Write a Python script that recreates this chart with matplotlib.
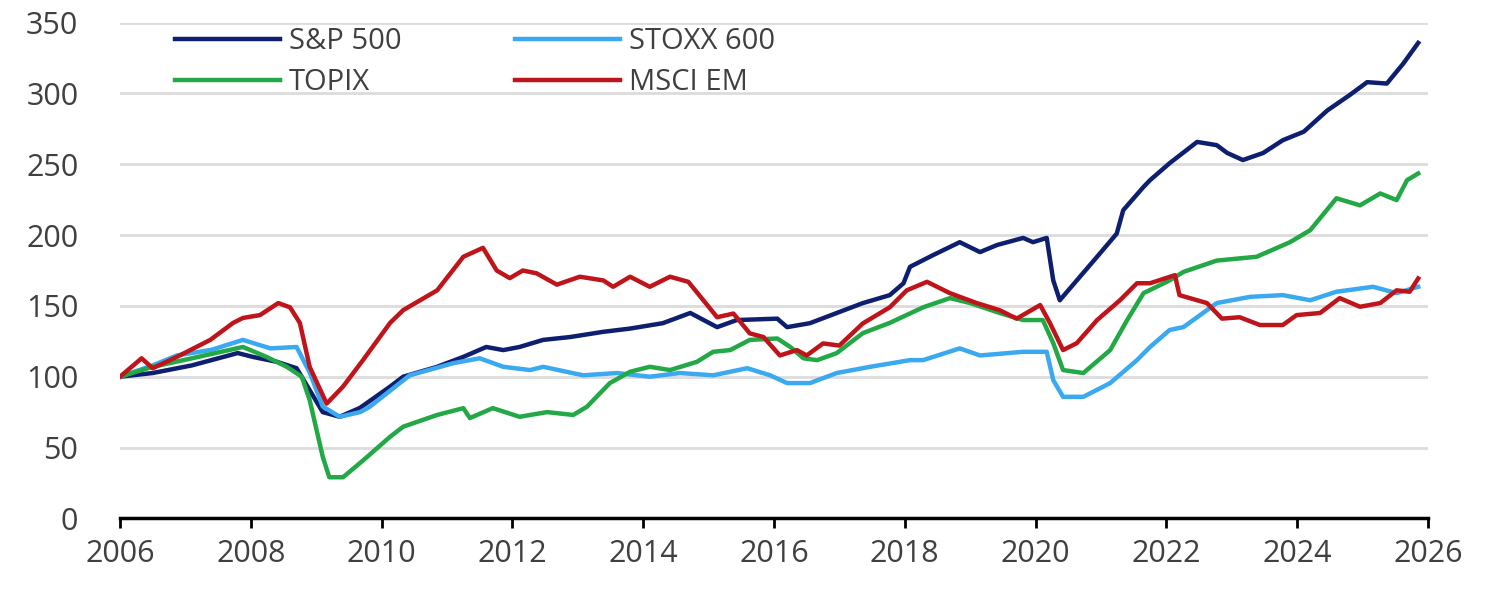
import matplotlib.pyplot as plt

# values (decimal years, index 2006 = 100)
sp_years = [2006.0, 2006.5, 2007.1, 2007.8, 2008.03, 2008.4, 2008.7, 2009.1, 2009.36, 2009.67,
            2010.13, 2010.33, 2010.85, 2011.25, 2011.6, 2011.86, 2012.11, 2012.47, 2012.88, 2013.39,
            2013.8, 2014.3, 2014.72, 2015.13, 2015.43, 2016.05, 2016.2, 2016.55, 2016.96, 2017.36,
            2017.77, 2017.98, 2018.08, 2018.43, 2018.84, 2019.15, 2019.41, 2019.81, 2019.96, 2020.17,
            2020.27, 2020.37, 2020.63, 2020.94, 2021.24, 2021.34, 2021.65, 2021.75, 2022.05, 2022.47,
            2022.77, 2022.93, 2023.17, 2023.48, 2023.78, 2024.1, 2024.46, 2024.8, 2025.07, 2025.37,
            2025.62, 2025.85]
sp_vals = [100, 102.6, 108, 116.7, 114, 110.5, 106, 75, 71.7, 78,
           93, 100, 107, 114, 121, 118.8, 121, 126, 128, 131.7,
           134, 137.8, 145, 135, 140, 141, 135, 137.8, 145, 152,
           157.6, 166, 177.6, 185.8, 195, 188, 193, 198, 195, 198,
           168, 154, 168, 184.7, 201, 217.6, 234, 238.8, 250.8, 265.8,
           263.5, 258, 253, 258, 267, 273, 288, 298.8, 308, 307,
           321, 335.7]

stoxx_years = [2006.0, 2006.5, 2006.87, 2007.4, 2007.88, 2008.3, 2008.7, 2008.9, 2009.1, 2009.36,
               2009.67, 2009.82, 2010.43, 2011.1, 2011.5, 2011.86, 2012.27, 2012.47, 2013.08, 2013.6,
               2014.1, 2014.56, 2015.07, 2015.59, 2015.94, 2016.2, 2016.55, 2016.96, 2017.47, 2018.08,
               2018.28, 2018.84, 2019.15, 2019.81, 2020.17, 2020.27, 2020.42, 2020.73, 2021.14, 2021.55,
               2021.75, 2022.05, 2022.26, 2022.77, 2023.28, 2023.78, 2024.2, 2024.6, 2025.16, 2025.52,
               2025.85]
stoxx_vals = [100, 108, 115, 119, 126, 120, 121, 103, 79, 71.7,
              75, 78.8, 101, 109.6, 113, 107, 104.7, 107, 101, 102.6,
              100, 102.6, 101, 106, 101, 95.5, 95.5, 102.6, 107, 111.7,
              111.7, 120, 115, 117.6, 117.6, 97.6, 85.8, 85.8, 95.5, 111.7,
              121, 133, 135, 152, 156.4, 157.6, 154, 160, 163.5, 159,
              163.5]

topix_years = [2006.0, 2006.5, 2007.1, 2007.88, 2008.24, 2008.55, 2008.78, 2008.9, 2009.1, 2009.2,
               2009.41, 2009.72, 2010.13, 2010.33, 2010.85, 2011.25, 2011.35, 2011.7, 2012.11, 2012.53,
               2012.93, 2013.14, 2013.49, 2013.8, 2014.1, 2014.41, 2014.82, 2015.07, 2015.33, 2015.63,
               2016.05, 2016.25, 2016.45, 2016.66, 2016.96, 2017.36, 2017.77, 2018.28, 2018.69, 2019.0,
               2019.45, 2019.81, 2020.11, 2020.27, 2020.42, 2020.73, 2021.14, 2021.4, 2021.65, 2022.05,
               2022.26, 2022.77, 2023.38, 2023.89, 2024.2, 2024.6, 2024.96, 2025.27, 2025.52, 2025.68,
               2025.85]
topix_vals = [100, 107, 113, 121, 114, 107, 100, 83.5, 43.5, 29,
              29, 41, 57.6, 64.7, 73, 77.8, 70.8, 77.8, 71.7, 75,
              73, 78.8, 95.5, 103.5, 107, 104.7, 110.5, 117.6, 118.8, 126,
              127, 121, 113, 111.7, 116.7, 130.8, 138, 149, 155.5, 152,
              145, 140, 140, 123.7, 104.7, 102.6, 118.8, 140, 159, 168,
              174, 182, 184.7, 195, 203.5, 226, 221, 229.4, 224.7, 238.8,
              243.5]

em_years = [2006.0, 2006.33, 2006.5, 2006.87, 2007.38, 2007.73, 2007.88, 2008.14, 2008.42, 2008.6,
            2008.75, 2008.9, 2009.16, 2009.41, 2009.72, 2010.13, 2010.33, 2010.85, 2011.25, 2011.55,
            2011.76, 2011.96, 2012.16, 2012.37, 2012.68, 2013.03, 2013.39, 2013.54, 2013.8, 2014.1,
            2014.41, 2014.69, 2014.92, 2015.13, 2015.38, 2015.63, 2015.84, 2016.09, 2016.35, 2016.5,
            2016.75, 2017.0, 2017.36, 2017.77, 2018.03, 2018.34, 2018.69, 2019.1, 2019.45, 2019.71,
            2020.07, 2020.22, 2020.42, 2020.63, 2020.94, 2021.29, 2021.55, 2021.75, 2022.13, 2022.2,
            2022.62, 2022.85, 2023.12, 2023.43, 2023.78, 2023.99, 2024.35, 2024.65, 2024.96, 2025.27,
            2025.52, 2025.72, 2025.85]
em_vals = [100, 113, 106, 114, 126, 138, 141.5, 143.5, 152, 149,
           138, 107, 81, 93, 112, 138, 147, 161, 184.7, 191,
           175, 169.6, 175, 173, 165, 170.6, 168, 163.5, 170.6, 163.5,
           170.6, 167, 154, 142, 144.6, 130.6, 128, 115, 118.8, 115,
           123.5, 122, 137.7, 149, 161, 167, 159, 152, 147, 141,
           150.6, 137.8, 118.8, 123.7, 140, 154, 166, 166, 171.7, 157.6,
           152, 141, 142, 136.5, 136.5, 143.5, 145, 155.5, 149.4, 152,
           161, 160, 169.4]

year_ticks = list(range(2006, 2027, 2))
value_ticks = list(range(0, 351, 50))

plt.rcParams["font.family"] = ["Open Sans", "DejaVu Sans"]
text_color = "#404040"

fig = plt.figure(figsize=(15, 5.89), dpi=100)
ax = fig.add_axes([0.08, 0.12, 0.872, 0.8415])

ax.plot(sp_years, sp_vals, color="#0d1f6e", lw=3.2, label="S&P 500")
ax.plot(stoxx_years, stoxx_vals, color="#3aa9f0", lw=3.2, label="STOXX 600")
ax.plot(topix_years, topix_vals, color="#22a845", lw=3.2, label="TOPIX")
ax.plot(em_years, em_vals, color="#c0141b", lw=3.2, label="MSCI EM")

ax.set_xlim(2006, 2026)
ax.set_ylim(0, 350)
ax.set_xticks(year_ticks)
ax.set_yticks(value_ticks)
ax.grid(axis="y", color="#dcdcdc", lw=2)
ax.set_axisbelow(True)

for side in ["top", "right", "left"]:
    ax.spines[side].set_visible(False)
ax.spines["bottom"].set_linewidth(2.5)
ax.spines["bottom"].set_color("black")
ax.tick_params(axis="x", length=7, width=2, color="black", labelsize=22,
               labelcolor=text_color, pad=8)
ax.tick_params(axis="y", length=0, labelsize=22, labelcolor=text_color, pad=30)

h, l = ax.get_legend_handles_labels()
order = [0, 2, 1, 3]
ax.legend([h[i] for i in order], [l[i] for i in order], ncol=2, frameon=False,
          loc="upper left", bbox_to_anchor=(0.022, 1.044), fontsize=21,
          handlelength=3.6, handletextpad=0.3, columnspacing=3.9,
          labelspacing=0.4, labelcolor=text_color)

fig.savefig("out.png", dpi=100)
